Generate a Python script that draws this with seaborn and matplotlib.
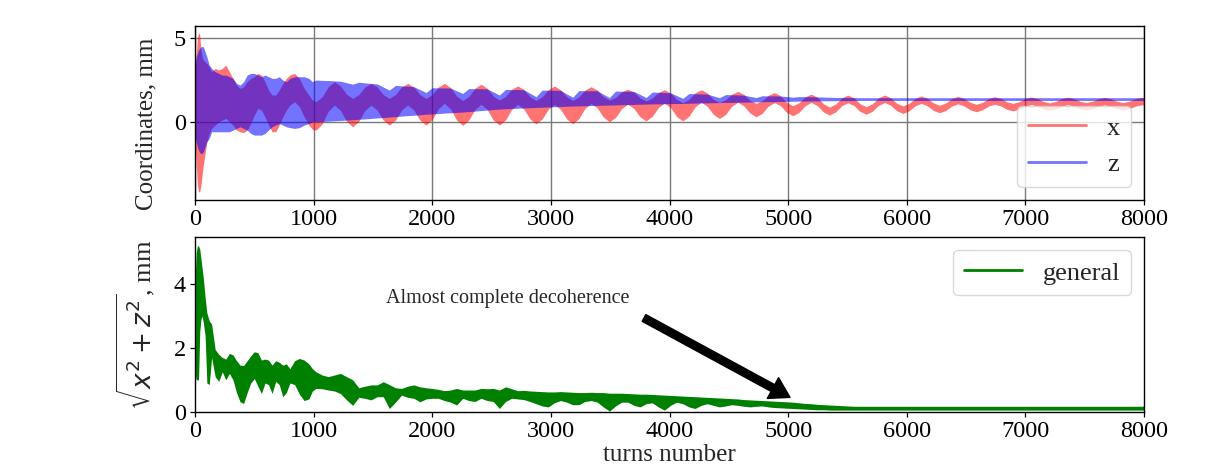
import numpy as np
import pandas as pd
import matplotlib
matplotlib.use("Agg")
import matplotlib.pyplot as plt
from matplotlib.lines import Line2D
import seaborn as sns

# ---------------- data ----------------
# sampling turns: early irregular part, then a regular grid (1/6 of the slow beat period)
turns_early = [0, 10, 20, 30, 40, 50, 60, 70, 85, 100, 120, 140, 170, 200, 230, 260,
               290, 320, 350, 380, 410, 440, 470, 500, 530, 560, 590, 620, 650, 680,
               710, 740, 770, 800, 840, 880, 920, 960, 990]
turns_late = list(np.round(np.linspace(1020, 7977, 136))) + [8000]
turns = np.array(turns_early + turns_late, dtype=float)

# x coordinate (red band): upper / lower envelope
x_hi = [3.0, 4.0, 5.0, 5.35, 5.2, 4.3, 3.9, 3.7, 3.6, 3.5,
        3.3, 3.0, 3.2, 3.1, 3.2, 3.4, 3.0, 2.6, 2.2, 2.0,
        2.1, 2.4, 2.6, 2.7, 2.9, 2.8, 2.4, 1.9, 1.6, 1.6,
        1.9, 2.3, 2.6, 2.8, 2.9, 2.6, 2.0, 1.6, 1.3,
        1.20, 1.50, 2.10, 2.40, 2.15, 1.65,
        1.40, 1.63, 2.08, 2.30, 2.08, 1.63,
        1.40, 1.63, 2.08, 2.30, 2.08, 1.63,
        1.40, 1.63, 2.08, 2.30, 2.05, 1.54,
        1.28, 1.52, 2.01, 2.25, 2.01, 1.54,
        1.30, 1.51, 1.94, 2.15, 1.93, 1.50,
        1.28, 1.50, 1.93, 2.14, 1.93, 1.50,
        1.28, 1.49, 1.90, 2.10, 1.90, 1.50,
        1.30, 1.46, 1.79, 1.95, 1.78, 1.43,
        1.25, 1.42, 1.75, 1.92, 1.73, 1.34,
        1.15, 1.34, 1.73, 1.92, 1.73, 1.34,
        1.15, 1.32, 1.65, 1.82, 1.64, 1.28,
        1.10, 1.26, 1.59, 1.75, 1.55, 1.16,
        0.96, 1.14, 1.49, 1.66, 1.47, 1.08,
        0.88, 1.06, 1.42, 1.60, 1.43, 1.08,
        0.90, 1.08, 1.43, 1.60, 1.44, 1.11,
        0.95, 1.10, 1.40, 1.55, 1.41, 1.13,
        0.99, 1.12, 1.39, 1.52, 1.40, 1.17,
        1.05, 1.16, 1.39, 1.50, 1.40, 1.20,
        1.10, 1.20, 1.39, 1.48, 1.39, 1.22,
        1.13, 1.22, 1.39, 1.47, 1.39, 1.23,
        1.15, 1.23, 1.38, 1.46, 1.38, 1.23,
        1.15, 1.23, 1.38, 1.46,
        1.46]
x_lo = [-1.0, -2.5, -3.8, -4.2, -4.2, -3.8, -3.2, -2.6, -1.9, -1.2,
        -0.7, -0.4, -0.2, 0.0, 0.1, 0.2, 0.0, -0.2, -0.5, -0.6,
        -0.65, -0.5, -0.1, 0.4, 0.8, 0.7, 0.3, -0.2, -0.6, -0.6,
        -0.2, 0.3, 0.7, 1.0, 1.2, 0.9, 0.3, -0.2, -0.45,
        -0.50, -0.13, 0.63, 1.00, 0.68, 0.03,
        -0.30, 0.03, 0.68, 1.00, 0.70, 0.10,
        -0.20, 0.10, 0.70, 1.00, 0.70, 0.10,
        -0.20, 0.13, 0.78, 1.10, 0.77, 0.11,
        -0.22, 0.10, 0.73, 1.05, 0.74, 0.11,
        -0.20, 0.11, 0.74, 1.05, 0.76, 0.17,
        -0.12, 0.17, 0.75, 1.04, 0.75, 0.17,
        -0.12, 0.19, 0.80, 1.10, 0.83, 0.28,
        0.00, 0.26, 0.79, 1.05, 0.80, 0.30,
        0.05, 0.32, 0.85, 1.12, 0.85, 0.32,
        0.05, 0.33, 0.89, 1.17, 0.93, 0.44,
        0.20, 0.44, 0.93, 1.17, 0.95, 0.52,
        0.30, 0.51, 0.94, 1.15, 0.95, 0.56,
        0.36, 0.56, 0.96, 1.16, 0.97, 0.59,
        0.40, 0.59, 0.96, 1.14, 0.97, 0.62,
        0.45, 0.63, 0.98, 1.15, 0.99, 0.66,
        0.50, 0.65, 0.95, 1.10, 0.96, 0.68,
        0.54, 0.67, 0.94, 1.07, 0.95, 0.72,
        0.60, 0.71, 0.94, 1.05, 0.95, 0.75,
        0.65, 0.75, 0.94, 1.03, 0.94, 0.77,
        0.68, 0.77, 0.94, 1.02, 0.94, 0.78,
        0.70, 0.78, 0.93, 1.01, 0.93, 0.78,
        0.70, 0.78, 0.93, 1.01,
        1.01]

# z coordinate (blue band)
z_hi = [3.5, 3.9, 4.1, 4.3, 4.4, 4.5, 4.5, 4.5, 4.2, 3.9,
        3.4, 3.2, 3.0, 2.9, 2.8, 2.8, 2.7, 2.6, 2.3, 2.2,
        2.4, 2.8, 2.9, 2.9, 2.8, 2.7, 2.8, 2.7, 2.6, 2.6,
        2.7, 2.5, 2.4, 2.6, 2.7, 2.7, 2.7, 2.6, 2.4,
        2.50, 2.48, 2.47, 2.45, 2.43, 2.34,
        2.25, 2.37, 2.33, 2.30, 2.27, 2.08,
        1.90, 2.18, 2.15, 2.13, 2.10, 1.93,
        1.75, 2.04, 2.03, 2.03, 2.02, 1.86,
        1.70, 1.99, 1.98, 1.98, 1.97, 1.79,
        1.60, 1.94, 1.93, 1.93, 1.92, 1.71,
        1.50, 1.90, 1.89, 1.89, 1.88, 1.67,
        1.47, 1.87, 1.86, 1.86, 1.86, 1.65,
        1.45, 1.84, 1.83, 1.83, 1.82, 1.64,
        1.45, 1.78, 1.77, 1.75, 1.73, 1.57,
        1.40, 1.69, 1.68, 1.67, 1.66, 1.55,
        1.44, 1.63, 1.62, 1.61, 1.59, 1.52,
        1.45, 1.56, 1.55, 1.55, 1.54, 1.51,
        1.47, 1.51, 1.50, 1.50, 1.49, 1.48,
        1.47, 1.46, 1.46, 1.45, 1.45, 1.44] + [1.44] * 47
z_lo = [-0.8, -1.2, -1.5, -1.7, -1.85, -1.9, -1.9, -1.8, -1.5, -1.2,
        -1.0, -0.6, -0.6, -0.6, -0.6, -0.6, -0.6, -0.5, -0.4, -0.3,
        -0.4, -0.5, -0.7, -0.8, -0.8, -0.8, -0.7, -0.5, -0.3, -0.2,
        -0.1, -0.2, -0.3, -0.35, -0.4, -0.35, -0.2, -0.1, 0.0,
        0.00, 0.02, 0.04, 0.06, 0.08, 0.10,
        0.12, 0.15, 0.17, 0.20, 0.23, 0.25,
        0.28, 0.31, 0.34, 0.37, 0.39, 0.42,
        0.45, 0.47, 0.49, 0.52, 0.54, 0.56,
        0.58, 0.61, 0.64, 0.67, 0.70, 0.73,
        0.76, 0.78, 0.79, 0.81, 0.83, 0.84,
        0.86, 0.87, 0.89, 0.90, 0.91, 0.93,
        0.94, 0.95, 0.96, 0.97, 0.98, 0.99,
        1.00, 1.01, 1.02, 1.03, 1.04, 1.05,
        1.06, 1.07, 1.07, 1.08, 1.09, 1.09,
        1.10, 1.11, 1.12, 1.13, 1.13, 1.14,
        1.15, 1.16, 1.16, 1.17, 1.18, 1.18,
        1.19, 1.20, 1.20, 1.21, 1.22, 1.22,
        1.23, 1.24, 1.24, 1.25, 1.25, 1.26,
        1.26, 1.26, 1.27, 1.27, 1.27, 1.28] + [1.28] * 47

# general amplitude (green band)
g_hi = [4.0, 5.0, 5.2, 5.2, 5.1, 4.8, 4.5, 4.2, 3.6, 3.1,
        2.85, 2.75, 1.95, 1.8, 1.7, 1.65, 1.83, 1.78, 1.6, 1.46,
        1.45, 1.6, 1.75, 1.88, 1.85, 1.62, 1.65, 1.62, 1.46, 1.6,
        1.55, 1.46, 1.5, 1.35, 1.6, 1.67, 1.62, 1.5, 1.35,
        1.25, 1.15, 1.10, 1.15, 1.20, 1.10, 1.00, 0.75, 0.80, 0.84,
        0.84, 0.94, 0.85, 0.75, 0.73, 0.80, 0.84, 0.78, 0.75, 0.73,
        0.70, 0.66, 0.68, 0.73, 0.68, 0.68, 0.68, 0.73, 0.72, 0.73,
        0.68, 0.78, 0.72, 0.66, 0.67, 0.65, 0.64, 0.63, 0.62, 0.62,
        0.63, 0.62, 0.61, 0.60, 0.60, 0.61, 0.60, 0.60, 0.58, 0.58,
        0.58, 0.57, 0.56, 0.55, 0.55, 0.54, 0.53, 0.52, 0.51, 0.50,
        0.49, 0.48, 0.47, 0.46, 0.45, 0.44, 0.43, 0.42, 0.41, 0.40,
        0.38, 0.37, 0.36, 0.35, 0.34, 0.33, 0.32, 0.31, 0.30, 0.28,
        0.26, 0.25, 0.23, 0.22, 0.21, 0.20, 0.19, 0.18] + [0.17] * 48 + [0.18]
g_lo = [1.2, 1.0, 1.0, 1.0, 2.5, 2.9, 3.0, 2.8, 2.4, 0.9,
        0.85, 1.7, 1.1, 0.95, 1.25, 1.0, 1.2, 1.0, 0.6, 0.31,
        0.26, 0.6, 0.9, 1.04, 0.8, 0.57, 0.9, 0.85, 0.57, 0.95,
        0.85, 0.47, 0.6, 0.9, 0.85, 0.55, 0.35, 0.4, 0.65,
        0.73, 0.72, 0.68, 0.65, 0.57, 0.37, 0.20, 0.45, 0.42, 0.37,
        0.47, 0.47, 0.10, 0.30, 0.52, 0.45, 0.42, 0.31, 0.40, 0.42,
        0.42, 0.35, 0.30, 0.21, 0.42, 0.35, 0.32, 0.42, 0.35, 0.32,
        0.10, 0.32, 0.42, 0.40, 0.38, 0.32, 0.25, 0.18, 0.15, 0.28,
        0.35, 0.30, 0.22, 0.22, 0.32, 0.35, 0.30, 0.15, 0.02, 0.18,
        0.30, 0.30, 0.20, 0.15, 0.25, 0.28, 0.15, 0.05, 0.20, 0.30,
        0.25, 0.15, 0.10, 0.20, 0.25, 0.20, 0.15, 0.18, 0.22, 0.20,
        0.17, 0.15, 0.17, 0.18, 0.15, 0.13, 0.12, 0.11, 0.10, 0.09,
        0.08, 0.07, 0.06, 0.06, 0.05, 0.05, 0.05, 0.05] + [0.05] * 48 + [0.05]

x_ticks = [0, 1000, 2000, 3000, 4000, 5000, 6000, 7000, 8000]
top_yticks = [0, 5]
bottom_yticks = [0, 2, 4]
annotation_text = "Almost complete decoherence"

# ---------------- style ----------------
sns.set_style("ticks")
plt.rcParams["font.family"] = ["Liberation Serif", "DejaVu Serif"]
plt.rcParams["mathtext.fontset"] = "dejavusans"
plt.rcParams["axes.edgecolor"] = "black"
plt.rcParams["xtick.color"] = "black"
plt.rcParams["ytick.color"] = "black"

fig = plt.figure(figsize=(12.09, 4.67), dpi=100)
W, H = 1209.0, 467.0
ax1 = fig.add_axes([195 / W, 1 - 200 / H, 949 / W, 174 / H])
ax2 = fig.add_axes([195 / W, 1 - 411.7 / H, 949 / W, 174.4 / H])


def band(ax, hi, lo, color, alpha):
    n = len(turns)
    assert len(hi) == n and len(lo) == n
    df = pd.DataFrame({"turn": np.concatenate([turns, turns]),
                       "value": np.concatenate([np.asarray(hi, float), np.asarray(lo, float)])})
    sns.lineplot(data=df, x="turn", y="value", estimator="mean", errorbar=("pi", 100),
                 color=color, linewidth=0, ax=ax, legend=False,
                 err_kws=dict(alpha=alpha, linewidth=0))


band(ax1, x_hi, x_lo, "#ff0000", 0.55)
band(ax1, z_hi, z_lo, "#0000ff", 0.55)
band(ax2, g_hi, g_lo, "#008000", 1.0)

for ax in (ax1, ax2):
    ax.set_xlim(0, 8000)
    ax.set_xticks(x_ticks)
    ax.tick_params(axis="both", labelsize=17.5, direction="out", length=3.5, width=0.9,
                   colors="black", pad=3.2)
    for s in ax.spines.values():
        s.set_color("black")
        s.set_linewidth(1.0)
    ax.set_xlabel("")

ax1.set_ylim(-4.69, 5.74)
ax1.set_yticks(top_yticks)
ax1.grid(True, color="#7a7a7a", linewidth=1.0)
ax1.set_ylabel("Coordinates, mm", fontsize=18)
ax1.yaxis.set_label_coords(-0.04, 0.44)

ax2.set_ylim(0, 5.47)
ax2.set_yticks(bottom_yticks)
ax2.grid(False)
ax2.set_ylabel(r"$\sqrt{x^2+z^2}$, mm", fontsize=19)
ax2.yaxis.set_label_coords(-0.04, 0.5)
ax2.set_xlabel("turns number", fontsize=18)
ax2.xaxis.set_label_coords(0.5, -0.183)

h1 = [Line2D([], [], color="#ff0000", alpha=0.55, lw=2, label="x"),
      Line2D([], [], color="#0000ff", alpha=0.55, lw=2, label="z")]
ax1.legend(handles=h1, loc="lower right", fontsize=19, frameon=True, fancybox=True,
           framealpha=0.8, edgecolor="#d0d0d0", handlelength=2.2, borderpad=0.4,
           labelspacing=0.5)
h2 = [Line2D([], [], color="#008000", lw=2, label="general")]
ax2.legend(handles=h2, loc="upper right", fontsize=19, frameon=True, fancybox=True,
           framealpha=0.8, edgecolor="#d0d0d0", handlelength=2.2, borderpad=0.4)

ax2.text(2640, 3.55, annotation_text, ha="center", va="center", fontsize=14.5)
ax2.annotate("", xy=(5016, 0.45), xytext=(3785, 2.94),
             arrowprops=dict(facecolor="black", edgecolor="black", width=5.5,
                             headwidth=17, headlength=14, shrink=0.0))

fig.savefig("out.png", dpi=100)
